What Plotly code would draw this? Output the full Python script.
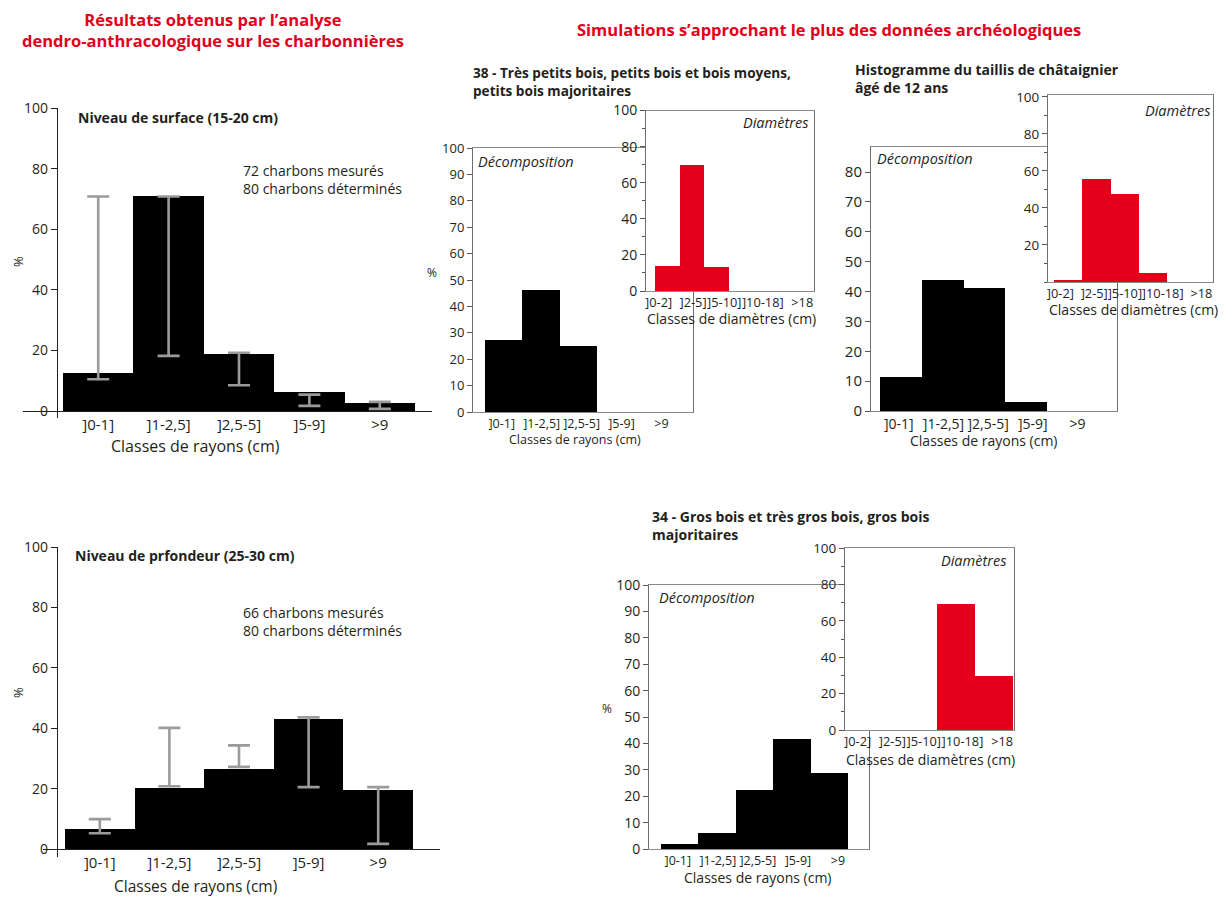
import plotly.graph_objects as go

W, H = 1227, 897
OX, OY = 8, 8  # page offset of the figure inside the browser window

# ---------------- data ----------------
rayon_classes = ["]0-1]", "]1-2,5]", "]2,5-5]", "]5-9]", ">9"]
diam_classes = ["]0-2]", "]2-5]", "]5-10]", "]10-18]", ">18"]

surface_pct = [12.7, 70.8, 18.9, 6.2, 2.5]
surface_err_low = [10.5, 18.2, 8.5, 1.7, 0.7]
surface_err_high = [70.8, 70.8, 19.2, 5.4, 3.0]

profondeur_pct = [6.6, 20.2, 26.5, 42.9, 19.4]
profondeur_err_low = [5.2, 20.8, 27.2, 20.5, 1.7]
profondeur_err_high = [9.9, 40.1, 34.3, 43.6, 20.5]

sim38_decomp = [27.4, 46.3, 24.9, 0, 0]
sim38_diam = [14.2, 70.2, 13.7, 0, 0]

taillis_decomp = [11.5, 43.9, 41.3, 3.0, 0]
taillis_diam = [0.9, 55.7, 47.4, 4.7, 0]

sim34_decomp = [1.9, 6.0, 22.4, 41.7, 28.7]
sim34_diam = [0, 0, 0, 69.5, 29.8]

# ---------------- style ----------------
FONT = "Open Sans, Noto Sans, sans-serif"
RED_FONT = "Liberation Sans Narrow, Arial Narrow, Open Sans, sans-serif"
DARK = "#231f20"
RED = "#e2001a"
GREY_ERR = "#9b9b9b"
FRAME = "#8a8a8a"
INSET_LABEL_FRAC = [0.075, 0.28, 0.466, 0.695, 0.93]

idx = list(range(5))

fig = go.Figure()


def px_to_fy(py):
    return 1 - (py - OY) / H


def dx(a, b):
    return [(a - OX) / W, (b - OX) / W]


def dy(top, bottom):
    return [px_to_fy(bottom), px_to_fy(top)]


def xrange_from(x0, x1, bar_left, unit):
    c0 = bar_left + unit / 2
    return [(x0 - c0) / unit, (x1 - c0) / unit]


def add_panel(n, x0, x1, ytop, ybot, yrange, bar_left, unit, values, color,
              kind, ytickvals, yfont, xfont, label_mode="bars", yaxis_pos=None, ytail=0):
    xr = xrange_from(x0, x1, bar_left, unit)
    xa = "x" if n == 1 else f"x{n}"
    ya = "y" if n == 1 else f"y{n}"
    fig.add_trace(go.Bar(x=idx, y=values, width=1, marker=dict(color=color, line=dict(width=0)),
                         xaxis=xa, yaxis=ya, showlegend=False, hoverinfo="skip"))
    if label_mode == "bars":
        tv = idx
    elif label_mode == "spread":
        tv = [xr[0] + (xr[1] - xr[0]) * f for f in INSET_LABEL_FRAC]
    else:
        tv = [i * 1.07 - 0.05 for i in idx]
    labels = rayon_classes if kind == "rayon" else diam_classes
    xkey = "xaxis" if n == 1 else f"xaxis{n}"
    ykey = "yaxis" if n == 1 else f"yaxis{n}"
    framed = yaxis_pos is None
    lc = FRAME if framed else DARK
    xaxis = dict(domain=dx(x0, x1), range=xr, tickvals=tv, ticktext=labels,
                 tickangle=0, automargin=False,
                 showline=True, linecolor=lc, linewidth=1 if framed else 1.3, mirror=framed,
                 ticks="", showgrid=False, zeroline=False, fixedrange=True,
                 tickfont=dict(size=xfont, color=DARK, family=FONT))
    # y axis may extend a little below the zero line (ytail pixels)
    ppu = (ybot - ytop) / (yrange[1] - yrange[0])
    yr = [yrange[0] - ytail / ppu, yrange[1]]
    yaxis = dict(domain=dy(ytop, ybot + ytail), range=yr, tickvals=ytickvals, automargin=False,
                 showline=True, linecolor=lc if not framed else "#6e6e6e",
                 linewidth=1 if framed else 1.3, mirror=framed,
                 ticks="outside", ticklen=6 if not framed else 5, tickcolor=DARK if not framed else "#555",
                 tickwidth=1, showgrid=False, zeroline=False, fixedrange=True,
                 tickfont=dict(size=yfont, color=DARK, family=FONT))
    if framed:
        yaxis["anchor"] = xa
        xaxis["anchor"] = ya
    else:
        yaxis["anchor"] = "free"
        yaxis["position"] = (yaxis_pos - OX) / W
        xaxis["anchor"] = "free"
        xaxis["position"] = px_to_fy(ybot)
    fig.update_layout(**{xkey: xaxis, ykey: yaxis})
    return xa, ya


def add_errors(xa, ya, low, high):
    fig.add_trace(go.Scatter(
        x=idx, y=high, mode="markers", marker=dict(size=2, opacity=0),
        error_y=dict(type="data", symmetric=False, array=[0] * len(high),
                     arrayminus=[h - l for h, l in zip(high, low)],
                     color=GREY_ERR, thickness=2.6, width=11),
        xaxis=xa, yaxis=ya, showlegend=False, hoverinfo="skip"))


MINOR = dict(minor=dict(ticks="outside", ticklen=3, dtick=10, tickcolor="#555"))

# Chart 1: surface
xa, ya = add_panel(1, 23, 432, 108, 411, [0, 100], 63, 70.4, surface_pct, "#000000",
                   "rayon", [0, 20, 40, 60, 80, 100], 14, 15, "bars", yaxis_pos=57, ytail=7)
add_errors(xa, ya, surface_err_low, surface_err_high)

# Chart 2: profondeur
xa, ya = add_panel(2, 43, 440, 547, 849, [0, 100], 65, 69.6, profondeur_pct, "#000000",
                   "rayon", [0, 20, 40, 60, 80, 100], 14, 15, "bars", yaxis_pos=57, ytail=8)
add_errors(xa, ya, profondeur_err_low, profondeur_err_high)

# Chart 3: simulation 38 decomposition + diameters inset
add_panel(3, 473, 693, 148, 412, [0, 100], 485, 37.3, sim38_decomp, "#000000",
          "rayon", list(range(0, 101, 10)), 13, 12.5, "shift")
add_panel(4, 646, 814, 110.5, 291, [0, 100], 655, 24.7, sim38_diam, RED,
          "diam", [0, 20, 40, 60, 80, 100], 14, 12.8, "spread")
fig.update_layout(yaxis4=MINOR)

# Chart 4: taillis decomposition + diameters inset
add_panel(5, 871, 1117, 147, 411, [0, 88.4], 880, 41.75, taillis_decomp, "#000000",
          "rayon", list(range(0, 81, 10)), 15, 14, "shift")
add_panel(6, 1048, 1213, 95, 282, [0, 101], 1054, 28.25, taillis_diam, RED,
          "diam", [20, 40, 60, 80, 100], 13.5, 12.8, "spread")
fig.update_layout(yaxis6=MINOR)

# Chart 5: simulation 34 decomposition + diameters inset
add_panel(7, 649, 869, 585, 849, [0, 100], 661, 37.4, sim34_decomp, "#000000",
          "rayon", list(range(0, 101, 10)), 14, 12.5, "shift")
add_panel(8, 845, 1014, 548, 730, [0, 100], 823, 38, sim34_diam, RED,
          "diam", [0, 20, 40, 60, 80, 100], 13.5, 12.8, "spread")
fig.update_layout(yaxis8=MINOR)


# ---------------- texts ----------------
def txt(s, x, y, size, anchor="left", color=DARK, angle=0, family=FONT):
    fig.add_annotation(text=s, x=(x - OX) / W, y=px_to_fy(y), xref="paper", yref="paper",
                       xanchor=anchor, yanchor="middle", showarrow=False, textangle=angle,
                       align=anchor,
                       font=dict(size=size, color=color, family=family), borderpad=0)


# red headings
txt("<b>Résultats obtenus par l’analyse<br>dendro-anthracologique sur les charbonnières</b>",
    213, 30, 16.5, "center", RED, family=RED_FONT)
txt("<b>Simulations s’approchant le plus des données archéologiques</b>", 829, 30, 16.5, "center", RED,
    family=RED_FONT)

# chart 1
txt("<b>Niveau de surface (15-20 cm)</b>", 77, 117, 14)
txt("72 charbons mesurés<br>80 charbons déterminés", 242, 180, 14)
txt("%", 18, 262, 13, "center", angle=-90)
txt("Classes de rayons (cm)", 195, 446, 16, "center")

# chart 2
txt("<b>Niveau de prfondeur (25-30 cm)</b>", 74, 555, 14)
txt("66 charbons mesurés<br>80 charbons déterminés", 242, 621.5, 14)
txt("%", 18, 693, 13, "center", angle=-90)
txt("Classes de rayons (cm)", 195, 886, 15.5, "center")

# chart 3
txt("<b>38 - Très petits bois, petits bois et bois moyens,<br>petits bois majoritaires</b>", 472, 82, 13.6)
txt("<i>Décomposition</i>", 477, 161, 14.5)
txt("%", 432, 272, 12, "center")
txt("Classes de rayons (cm)", 575, 439, 12.5, "center")
txt("<i>Diamètres</i>", 809, 122, 14.5, "right")
txt("Classes de diamètres (cm)", 731, 318, 14, "center")

# chart 4
txt("<b>Histogramme du taillis de châtaignier<br>âgé de 12 ans</b>", 854, 78.5, 14)
txt("<i>Décomposition</i>", 876, 159, 14.5)
txt("Classes de rayons (cm)", 983, 440, 14, "center")
txt("<i>Diamètres</i>", 1211, 110, 14.5, "right")
txt("Classes de diamètres (cm)", 1133, 309, 14, "center")

# chart 5
txt("<b>34 - Gros bois et très gros bois, gros bois<br>majoritaires</b>", 651, 525.5, 14)
txt("<i>Décomposition</i>", 658, 597, 14.5)
txt("%", 607, 708, 12, "center")
txt("Classes de rayons (cm)", 757, 877, 14, "center")
txt("<i>Diamètres</i>", 1007, 560, 14.5, "right")
txt("Classes de diamètres (cm)", 930, 759, 14, "center")

fig.update_layout(width=W, height=H, autosize=False,
                  margin=dict(l=0, r=0, t=0, b=0, pad=0, autoexpand=False),
                  paper_bgcolor="white", plot_bgcolor="white", showlegend=False,
                  bargap=0, font=dict(family=FONT, color=DARK))

fig.write_html("out.html", config={"displayModeBar": False})
